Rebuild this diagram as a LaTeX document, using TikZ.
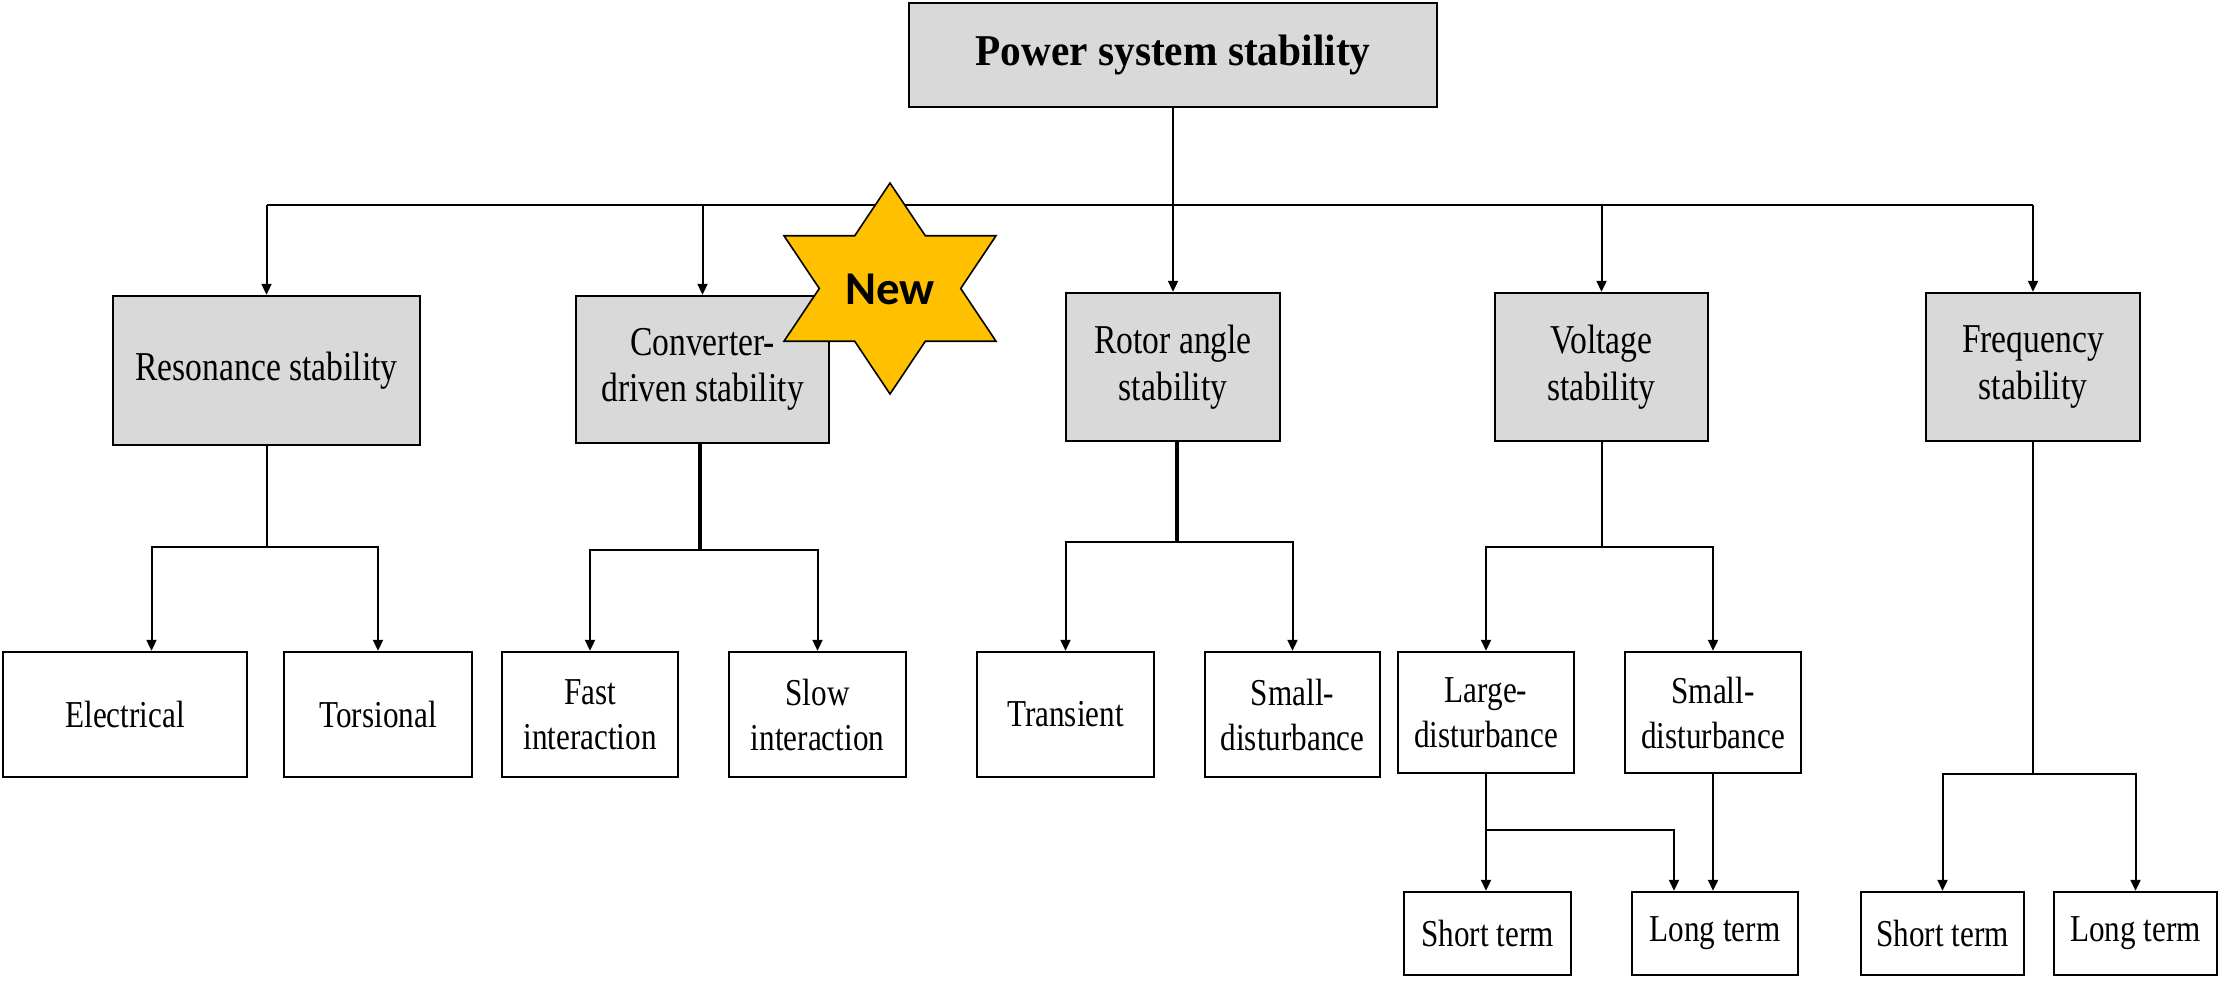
\documentclass[tikz,border=0pt]{standalone}
\usepackage{fontspec}
\setmainfont{Liberation Serif}[FakeStretch=0.82]
\newfontfamily\headfont{Liberation Serif}[FakeStretch=0.94]
\newfontfamily\badgefont{Carlito}
\usetikzlibrary{arrows.meta,calc}
\definecolor{boxgrey}{HTML}{D9D9D9}
\definecolor{badgegold}{HTML}{FFC000}

\begin{document}
\begin{tikzpicture}[x=0.5pt,y=-0.5pt,
  base/.style={draw=black, line width=1.2pt, inner sep=2pt, align=center},
  headbox/.style={base, fill=boxgrey, font=\headfont\bfseries\fontsize{22}{26}\selectfont},
  catbox/.style={base, fill=boxgrey, font=\fontsize{20.5}{23.3}\selectfont},
  subbox/.style={base, fill=white, font=\fontsize{19}{22.5}\selectfont},
  link/.style={line width=1pt},
  stem/.style={line width=1.6pt},
  arr/.style={line width=1pt, -{Triangle[length=5.5pt,width=5pt]}},
  badge/.style={fill=badgegold, draw=black, line width=0.8pt, line join=miter},
]
\path[use as bounding box, fill=white] (0,0) rectangle (2220,980);

% root
\node[headbox, minimum width=264pt, minimum height=52pt] (top) at (1173,55) {Power system stability};

% main categories
\node[catbox, minimum width=153.5pt, minimum height=74.5pt] (res) at (266.5,370.5) {Resonance stability};
\node[catbox, minimum width=126.5pt, minimum height=73.5pt] (conv) at (702.5,369.5) {Converter-\\driven stability};
\node[catbox, minimum width=107pt, minimum height=74pt] (rotor) at (1173,367) {Rotor angle\\stability};
\node[catbox, minimum width=106.5pt, minimum height=74pt] (volt) at (1601.5,367) {Voltage\\stability};
\node[catbox, minimum width=107pt, minimum height=74pt] (freq) at (2033,367) {Frequency\\stability};

% second level
\node[subbox, minimum width=122pt, minimum height=62.5pt] (elec) at (125,714.5) {Electrical};
\node[subbox, minimum width=94pt, minimum height=62.5pt] (tors) at (378,714.5) {Torsional};
\node[subbox, minimum width=88pt, minimum height=62.5pt] (fast) at (590,714.5) {Fast\\interaction};
\node[subbox, minimum width=88.5pt, minimum height=62.5pt] (slow) at (817.5,714.5) {Slow\\interaction};
\node[subbox, minimum width=88.5pt, minimum height=62.5pt] (trans) at (1065.5,714.5) {Transient};
\node[subbox, minimum width=87.5pt, minimum height=62.5pt] (smallr) at (1292.5,714.5) {Small-\\disturbance};
\node[subbox, minimum width=88pt, minimum height=60.5pt] (large) at (1486,712.5) {Large-\\disturbance};
\node[subbox, minimum width=88pt, minimum height=60.5pt] (smallv) at (1713,712.5) {Small-\\disturbance};

% third level
\node[subbox, minimum width=83.5pt, minimum height=41.5pt] (vshort) at (1487.5,933.5) {Short term};
\node[subbox, minimum width=83pt, minimum height=41.5pt] (vlong) at (1715,933.5) {Long term};
\node[subbox, minimum width=81.5pt, minimum height=41.5pt] (fshort) at (1942.5,933.5) {Short term};
\node[subbox, minimum width=81.5pt, minimum height=41.5pt] (flong) at (2135.5,933.5) {Long term};

% root to categories
\coordinate (bus) at (1173,205);
\draw[link] (top.south) -- (bus);
\draw[link] (res.north |- bus) -- (freq.north |- bus);
\foreach \n in {res,conv,rotor,volt,freq}
  \draw[arr] (\n.north |- bus) -- (\n.north);

% resonance branch
\coordinate (resj) at (266.5,547);
\draw[link] (res.south) -- (resj);
\draw[arr] (resj) -| ([xshift=13.25pt]elec.north);
\draw[arr] (resj) -| (tors.north);

% converter-driven branch
\coordinate (convj) at (700,550);
\draw[stem] (conv.south -| convj) -- (convj);
\draw[arr] (convj) -| (fast.north);
\draw[arr] (convj) -| (slow.north);

% rotor angle branch
\coordinate (rotj) at (1177,542);
\draw[stem] (rotor.south -| rotj) -- (rotj);
\draw[arr] (rotj) -| (trans.north);
\draw[arr] (rotj) -| (smallr.north);

% voltage branch
\coordinate (voltj) at (1601.5,547);
\draw[link] (volt.south) -- (voltj);
\draw[arr] (voltj) -| (large.north);
\draw[arr] (voltj) -| (smallv.north);
\coordinate (largej) at (1486,830);
\draw[arr] (large.south) -- (large.south |- vshort.north);
\draw[arr] (largej) -| ([xshift=-20.5pt]vlong.north);
\draw[arr] (smallv.south) -- (smallv.south |- vlong.north);

% frequency branch
\coordinate (freqj) at (2033,774);
\draw[link] (freq.south) -- (freqj);
\draw[arr] (freqj) -| (fshort.north);
\draw[arr] (freqj) -| (flong.north);

% six-pointed badge
\begin{scope}[shift={(890,288.5)}]
  \draw[badge] (0,-105.5) -- (35.3,-52.75) -- (106,-52.75) -- (70.7,0)
    -- (106,52.75) -- (35.3,52.75) -- (0,105.5) -- (-35.3,52.75)
    -- (-106,52.75) -- (-70.7,0) -- (-106,-52.75) -- (-35.3,-52.75) -- cycle;
\end{scope}
\node[font=\badgefont\bfseries\fontsize{23.5}{28}\selectfont] (newtag) at (890,289) {New};
\end{tikzpicture}
\end{document}
